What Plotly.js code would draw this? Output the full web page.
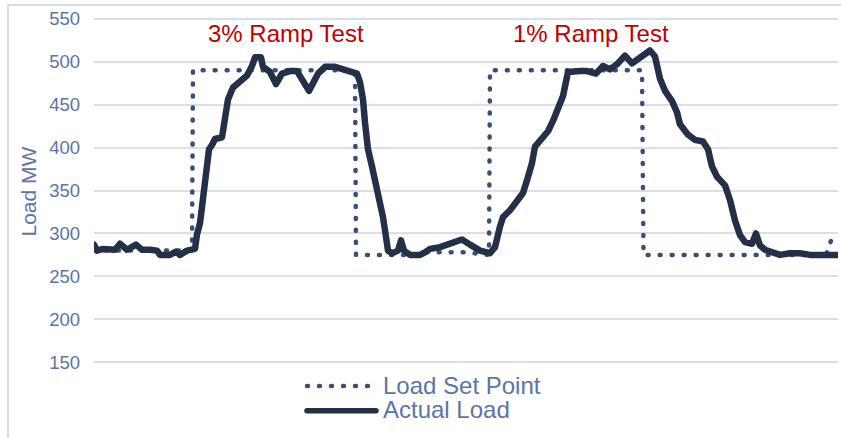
<!DOCTYPE html>
<html><head><meta charset="utf-8">
<script src="https://cdn.plot.ly/plotly-3.0.1.min.js"></script>
<style>
html,body{margin:0;padding:0;background:#fff;}
#chart{position:absolute;left:0;top:0;width:841px;height:438px;}
#frame{position:absolute;left:7px;top:4px;width:842px;height:442px;border:2px solid #d9dee8;pointer-events:none;box-sizing:border-box;}
.js-line, .shapelayer path{stroke-linecap:round !important;stroke-linejoin:round !important;}
</style></head><body>
<div id="chart"></div><div id="frame"></div>
<script>
// Time (sample index) and load values
const timeSetPoint = [0, 98, 99, 261, 262, 321, 331, 371, 395, 396, 548, 549.5, 732, 739];
const setPointMW   = [280, 280, 490, 490, 275, 275, 278, 278, 275, 490, 490, 275, 275, 298];

const timeActual = [0,3,9,21,26,33,42,48,56,63,66,76,82,86,93,101,103,106,108,110,113,115,118,121,128,131,134,139,146,153,158,161,167,169,176,182,188,196,203,209,215,224,231,241,249,256,263,266,269,271,274,278,282,286,289,292,294,298,304,307,310,316,326,331,336,346,356,368,376,386,396,401,406,409,416,421,429,433,438,441,446,454,459,464,469,474,479,486,493,502,509,516,523,526,531,538,546,556,561,566,571,578,583,586,594,601,609,614,618,623,631,636,641,646,651,658,662,666,671,678,686,696,706,716,731,744];
const actualMW   = [287,280,282,281,288,281,287,281,281,280,275,275,279,275,280,282,299,312,331,354,378,398,403,410,412,437,456,470,477,484,495,505,505,494,488,474,486,489,489,476,466,486,494,494,491,488,486,476,456,429,398,378,359,339,319,296,280,277,280,292,280,275,275,278,282,284,288,293,287,280,277,284,308,319,327,335,347,362,382,401,407,419,431,444,460,488,489,489,489,486,495,491,497,500,507,498,504,513,506,480,466,454,441,427,415,409,407,398,378,366,356,339,315,298,290,288,300,286,281,279,275,277,277,275,275,275];

const yTicks = [150, 200, 250, 300, 350, 400, 450, 500, 550];
const seriesNames = ["Load Set Point", "Actual Load"];
const testLabels = ["3% Ramp Test", "1% Ramp Test"];
const testLabelTimes = [192, 497];

const W = 841, H = 438;
const L = 94, R = 3, T = 17.285, B = 74.285;
const plotW = W - L - R, plotH = H - T - B;
const px = x => (x - L) / plotW;
const py = y => (H - B - y) / plotH;

const txtColor = '#5a75a6';
const font = 'Liberation Sans, Arial, sans-serif';

const traces = [
  {x: timeSetPoint, y: setPointMW, name: seriesNames[0], mode: 'lines', showlegend: false,
   line: {color: '#3b4e78', width: 4.5, dash: '1px,11px'}},
  {x: timeActual, y: actualMW, name: seriesNames[1], mode: 'lines', showlegend: false,
   line: {color: '#243047', width: 6.5}}
];

const annotations = [
  {xref: 'x', yref: 'paper', x: testLabelTimes[0], y: py(34), text: testLabels[0], showarrow: false,
   xanchor: 'center', yanchor: 'middle', font: {family: font, size: 24, color: '#c00000'}},
  {xref: 'x', yref: 'paper', x: testLabelTimes[1], y: py(34), text: testLabels[1], showarrow: false,
   xanchor: 'center', yanchor: 'middle', font: {family: font, size: 24, color: '#c00000'}},
  {xref: 'paper', yref: 'paper', x: px(29), y: py(191.5), text: 'Load MW', textangle: -90, showarrow: false,
   xanchor: 'center', yanchor: 'middle', font: {family: font, size: 21, color: txtColor}},
  {xref: 'paper', yref: 'paper', x: px(381), y: py(385), text: seriesNames[0], showarrow: false,
   xanchor: 'left', yanchor: 'middle', font: {family: font, size: 24, color: txtColor}},
  {xref: 'paper', yref: 'paper', x: px(381), y: py(409), text: seriesNames[1], showarrow: false,
   xanchor: 'left', yanchor: 'middle', font: {family: font, size: 24, color: txtColor}}
];

const shapes = [
  {type: 'line', xref: 'paper', yref: 'paper', x0: px(307), x1: px(369), y0: py(385.7), y1: py(385.7),
   line: {color: '#3b4e78', width: 4.5, dash: '1px,11px'}},
  {type: 'line', xref: 'paper', yref: 'paper', x0: px(307), x1: px(376), y0: py(410.5), y1: py(410.5),
   line: {color: '#243047', width: 5.5}}
];

const layout = {
  width: W, height: H,
  margin: {l: L, r: R, t: T, b: B, pad: 0},
  paper_bgcolor: '#ffffff', plot_bgcolor: '#ffffff',
  showlegend: false,
  xaxis: {range: [0, 744], showticklabels: false, showgrid: false, zeroline: false, showline: false, ticks: ''},
  yaxis: {range: [148, 552], tickvals: yTicks, ticktext: yTicks.map(String), showgrid: true,
          gridcolor: '#d9dee8', gridwidth: 2, zeroline: false, showline: false, ticks: '',
          ticklabelstandoff: 13, tickfont: {family: font, size: 18.5, color: txtColor}},
  annotations: annotations,
  shapes: shapes
};

Plotly.newPlot('chart', traces, layout, {staticPlot: true, displayModeBar: false});
</script>
</body></html>
